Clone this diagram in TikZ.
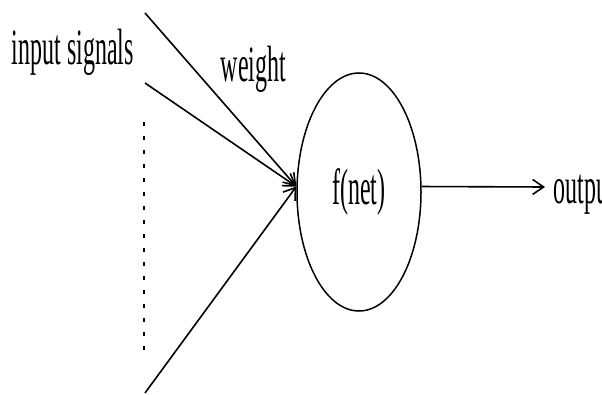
\documentclass[tikz,border=0pt]{standalone}
\usepackage{fontspec}
\setmainfont{Liberation Serif}
\usetikzlibrary{arrows.meta,shapes.geometric}
\newcommand{\narrow}[1]{\scalebox{0.47}[1]{#1}}

\begin{document}
\begin{tikzpicture}[x=1pt, y=-1pt, line width=1.6pt,
    >={Straight Barb[length=11pt,width=15pt]},
    lbl/.style={font=\fontsize{51}{55}\selectfont, inner sep=0pt, anchor=base west}]
    \clip (0,0) rectangle (602,395);
    \node[draw, ellipse, line width=1.5pt, minimum width=124pt, minimum height=238pt,
        inner sep=0pt, font=\fontsize{51}{55}\selectfont] (neuron) at (359,192) {\narrow{f(net)}};
    \coordinate (in1) at (145,13);
    \coordinate (in2) at (145,83);
    \coordinate (in3) at (145,393);
    \coordinate (dots1) at (144,122);
    \coordinate (dots2) at (144,358);
    \coordinate (out) at (545,187);
    \foreach \s in {in1,in2,in3} {
        \draw[->] (\s) -- (neuron.175);
    }
    \draw[dash pattern=on 4pt off 10pt] (dots1) -- (dots2);
    \draw[->] (neuron.5) -- (out);
    \node[lbl] (inlabel) at (11,65) {\narrow{input signals}};
    \node[lbl] (wlabel) at (220,82) {\narrow{weight}};
    \node[lbl] (outlabel) at (553,204) {\narrow{output}};
\end{tikzpicture}
\end{document}
